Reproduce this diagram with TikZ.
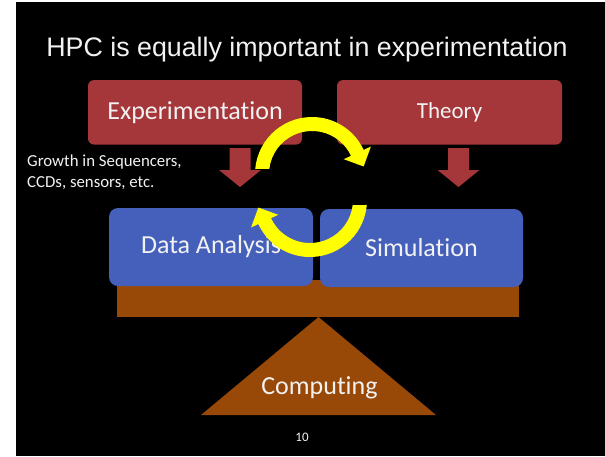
\documentclass[tikz,border=0pt]{standalone}
\usepackage{fontspec}
\setmainfont{Carlito}[Ligatures=NoCommon]
\newfontfamily\titlefont{Liberation Sans}
\usetikzlibrary{calc}
\definecolor{boxred}{HTML}{A5373A}
\definecolor{boxblue}{HTML}{4560BB}
\definecolor{beamcol}{HTML}{984807}
\definecolor{txt}{HTML}{F2F2F2}
\definecolor{cycyellow}{HTML}{FFFF00}
\begin{document}
\begin{tikzpicture}[x=1pt,y=-1pt,
  redbox/.style={fill=boxred, rounded corners=6pt, inner sep=0pt, text=txt, minimum height=64.5pt},
  bluebox/.style={fill=boxblue, rounded corners=9pt, inner sep=0pt, text=txt, minimum height=78pt, font=\fontsize{26}{30}\selectfont},
  blockarrow/.style={fill=boxred},
  cyclearrow/.style={fill=cycyellow},
  plain/.style={inner sep=0pt, text=txt}]
\useasboundingbox (0,0) rectangle (605,456);
\fill[white] (0,0) rectangle (605,456);
\fill[black] (16,2) rectangle (605,456);

% title
\node[plain, font=\titlefont\fontsize{26.8}{30}\selectfont] (title) at (307,50) {HPC is equally important in experimentation};

% beam and fulcrum
\fill[beamcol] (117,280) rectangle (519,317);
\coordinate (apex) at (318.5,317);
\fill[beamcol] (apex) -- (436,415) -- (201,415) -- cycle;
\node[plain, font=\fontsize{26}{30}\selectfont] (comp) at (319.5,388) {Computing};

% blue boxes
\node[bluebox, minimum width=204pt] (data) at (211,247) {Data Analysis};
\node[bluebox, minimum width=203pt] (sim) at (421.5,248) {Simulation};

% red boxes
\node[redbox, minimum width=214pt, font=\fontsize{26}{30}\selectfont] (exp) at (195,112.3) {Experimentation};
\node[redbox, minimum width=225pt, font=\fontsize{23}{27}\selectfont] (theory) at (449.5,112.3) {Theory};

% red block arrows
\coordinate (la) at (240,148);
\coordinate (ra) at (458.5,148);
\foreach \c in {la,ra}{
  \fill[blockarrow] ($(\c)+(-10.5,0)$) -- ($(\c)+(10.5,0)$) -- ($(\c)+(10.5,22)$) -- ($(\c)+(21,22)$)
    -- ($(\c)+(0,39)$) -- ($(\c)+(-21,22)$) -- ($(\c)+(-10.5,22)$) -- cycle;
}

% side note
\node[plain, anchor=north west, align=left, font=\fontsize{16.8}{21}\selectfont] (note) at (27,155) {Growth in Sequencers,\\CCDs, sensors, etc.};

% page number
\node[plain, font=\fontsize{13}{15}\selectfont] (pg) at (302,437) {10};

% yellow cycle arrows
\coordinate (c1) at (312,174);
\coordinate (c2) at (310,200);
\fill[cyclearrow] ($(c1)+(185:57)$) arc[start angle=185,end angle=335,radius=57]
  -- ($(c1)+(335:65)$) -- ($(c1)+(335:50)+(65:15)$) -- ($(c1)+(335:35)$)
  -- ($(c1)+(335:43)$) arc[start angle=335,end angle=187,radius=43] -- cycle;
\fill[cyclearrow] ($(c2)+(5:57)$) arc[start angle=5,end angle=155,radius=57]
  -- ($(c2)+(155:65)$) -- ($(c2)+(155:50)+(245:15)$) -- ($(c2)+(155:35)$)
  -- ($(c2)+(155:43)$) arc[start angle=155,end angle=7,radius=43] -- cycle;
\end{tikzpicture}
\end{document}
